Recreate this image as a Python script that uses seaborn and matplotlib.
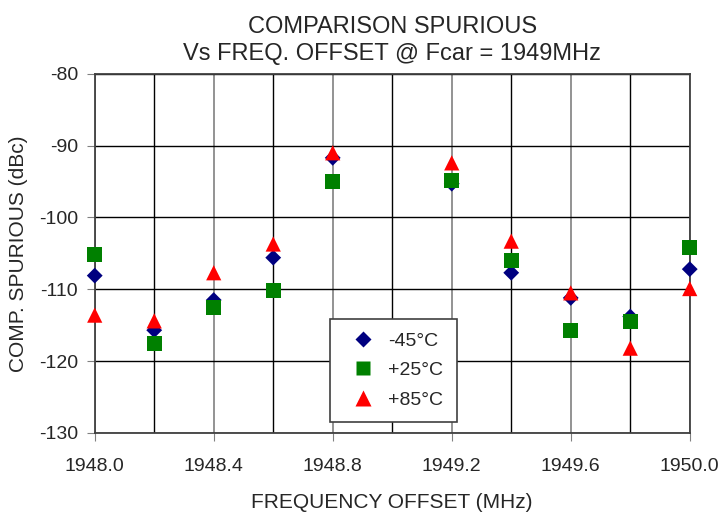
import numpy as np
import pandas as pd
import matplotlib
matplotlib.use("Agg")
import matplotlib.pyplot as plt
import seaborn as sns

# frequency offsets (MHz), no measurement at 1949.0
freq = [1948.0, 1948.2, 1948.4, 1948.6, 1948.8, 1949.2, 1949.4, 1949.6, 1949.8, 1950.0]
spur_m45 = [-108.1, -115.7, -111.5, -105.6, -91.7, -95.3, -107.7, -111.2, -113.8, -107.2]
spur_p25 = [-105.1, -117.5, -112.5, -110.2, -95.0, -94.8, -106.0, -115.8, -114.5, -104.2]
spur_p85 = [-113.6, -114.4, -107.7, -103.7, -91.0, -92.4, -103.3, -110.5, -118.2, -109.9]
labels = ["-45°C", "+25°C", "+85°C"]

df = pd.concat([
    pd.DataFrame({"freq": freq, "spur": s, "temp": lab})
    for s, lab in zip([spur_m45, spur_p25, spur_p85], labels)
])

sns.set_style("white")
plt.rcParams["font.family"] = ["Liberation Sans", "DejaVu Sans"]
plt.rcParams["axes.unicode_minus"] = False

fig = plt.figure(figsize=(7.23, 5.16), dpi=100)
ax = fig.add_axes([0.131, 0.161, 0.823, 0.696])

sns.scatterplot(data=df, x="freq", y="spur", hue="temp", style="temp", size="temp",
                palette={"-45°C": "#000080", "+25°C": "#008000", "+85°C": "#ff0000"},
                markers={"-45°C": "D", "+25°C": "s", "+85°C": "^"},
                sizes={"-45°C": 65, "+25°C": 115, "+85°C": 120},
                edgecolor="none", ax=ax, zorder=3, clip_on=False)

ax.set_xlim(1948.0, 1950.0)
ax.set_ylim(-130, -80)
ax.set_xticks(np.arange(1948.0, 1950.01, 0.4))
ax.set_xticks(np.arange(1948.2, 1950.0, 0.4), minor=True)
ax.set_yticks(np.arange(-130, -79, 10))
ax.set_xticklabels([f"{v:.1f}" for v in np.arange(1948.0, 1950.01, 0.4)])
ax.grid(True, which="major", color="#808080", lw=1.2)
ax.grid(True, which="minor", axis="x", color="black", lw=1)
ax.grid(True, which="major", axis="y", color="black", lw=1)
ax.tick_params(axis="both", which="major", direction="out", length=6, color="#808080",
               labelsize=14, bottom=True, left=True, pad=6)
ax.tick_params(axis="x", which="major", pad=12)
ax.tick_params(axis="x", which="minor", length=0)
for sp in ax.spines.values():
    sp.set_color("#404040")
    sp.set_linewidth(1.3)

ax.set_xlabel("FREQUENCY OFFSET (MHz)", fontsize=15, labelpad=13)
ax.set_ylabel("COMP. SPURIOUS (dBc)", fontsize=15, labelpad=8)
ax.set_title("COMPARISON SPURIOUS\nVs FREQ. OFFSET @ Fcar = 1949MHz", fontsize=17, pad=10,
             linespacing=1.3)

leg = ax.legend(loc="lower left", bbox_to_anchor=(0.395, 0.03), frameon=True, fancybox=False,
                fontsize=14, handletextpad=0.3, borderpad=0.7, labelspacing=0.6,
                borderaxespad=0)
leg.get_frame().set_edgecolor("#404040")
leg.get_frame().set_linewidth(1.2)
leg.get_frame().set_alpha(1)

fig.savefig("out.png", dpi=100)
